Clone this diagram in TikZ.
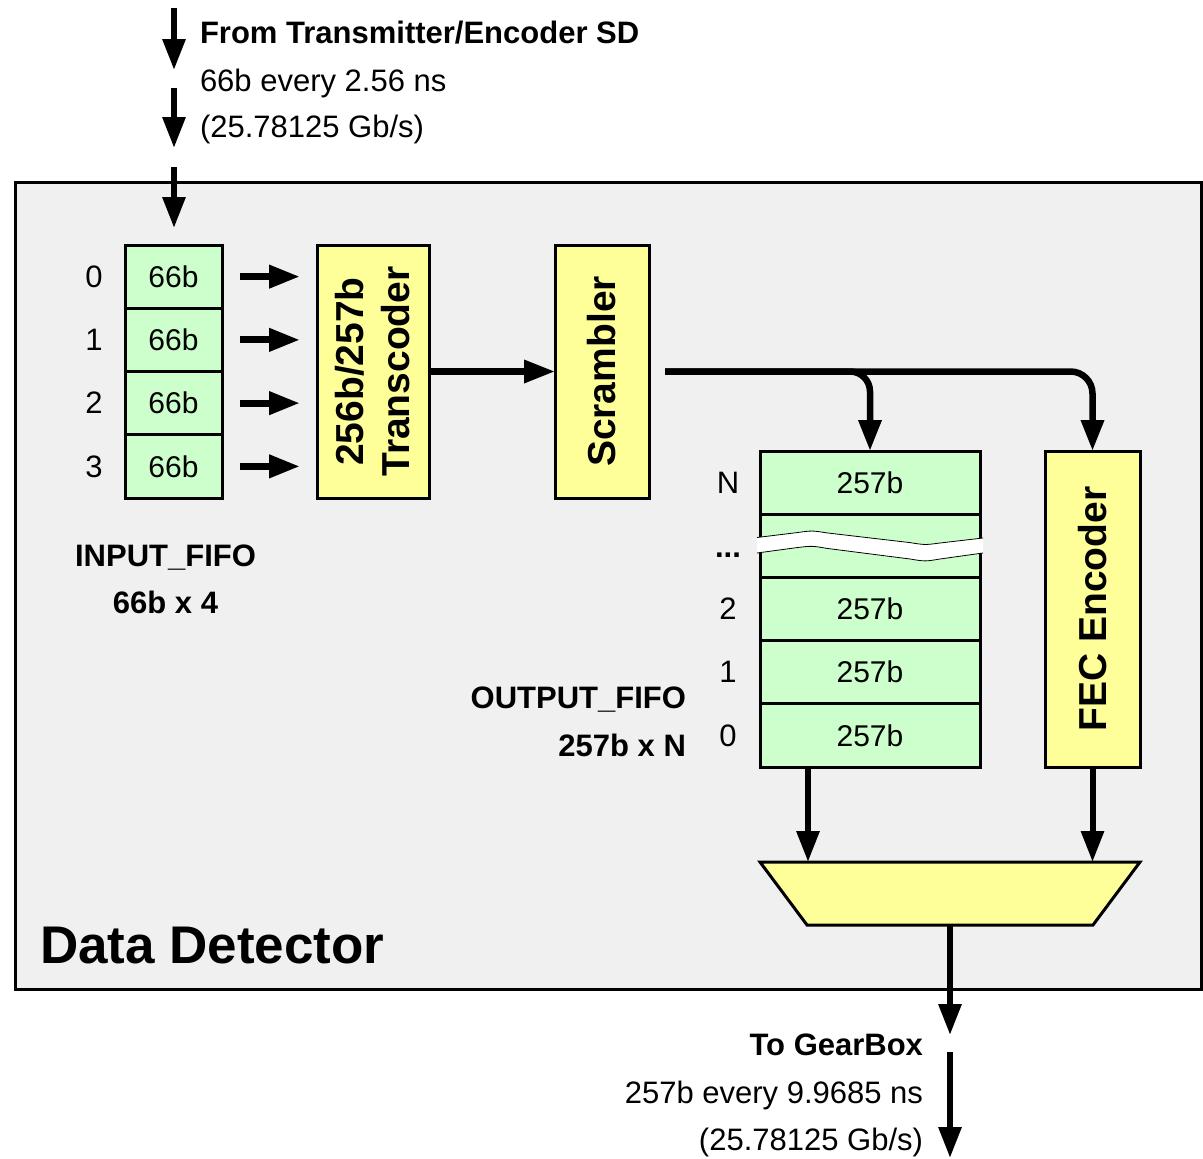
\documentclass[tikz,border=0pt]{standalone}
\usepackage{fontspec}
\setmainfont{Liberation Sans}
\usetikzlibrary{arrows.meta}
\definecolor{panelgray}{HTML}{F0F0F0}
\definecolor{cellgreen}{HTML}{CCFFCC}
\definecolor{blockyellow}{HTML}{FFFF99}

\begin{document}
\begin{tikzpicture}[x=1pt,y=-1pt,
  every node/.style={inner sep=0pt, outer sep=0pt},
  txt/.style={font=\fontsize{31}{37}\selectfont},
  btxt/.style={font=\fontsize{31}{37}\selectfont\bfseries},
  cell/.style={draw, line width=3pt, fill=cellgreen, font=\fontsize{30}{36}\selectfont},
  incell/.style={cell, minimum width=97pt, minimum height=63.25pt},
  outcell/.style={cell, minimum width=220pt, minimum height=63.2pt},
  block/.style={draw, line width=3pt, fill=blockyellow},
  blocklabel/.style={font=\fontsize{39}{46}\selectfont\bfseries, align=center, rotate=90},
  arr/.style={line width=6pt, -{Triangle[length=31pt,width=22pt]}},
]
\useasboundingbox (0,0) rectangle (1203,1159);

% main panel
\node[draw, line width=3pt, fill=panelgray, minimum width=1186pt, minimum height=807pt,
      anchor=north west] (panel) at (15,182) {};
\node[font=\fontsize{53}{60}\selectfont\bfseries, anchor=base west] (title) at (40,963) {Data Detector};

% incoming stream
\coordinate (a0) at (174,8);   \coordinate (a1) at (174,70);
\coordinate (b0) at (174,88);  \coordinate (b1) at (174,148);
\coordinate (c0) at (174,167); \coordinate (c1) at (174,228);
\draw[arr] (a0) -- (a1);
\draw[arr] (b0) -- (b1);
\draw[arr] (c0) -- (c1);
\node[btxt, anchor=base west] (src1) at (200,43) {From Transmitter/Encoder SD};
\node[txt, anchor=base west] (src2) at (200,91) {66b every 2.56 ns};
\node[txt, anchor=base west] (src3) at (200,137) {(25.78125 Gb/s)};

% input FIFO
\node[incell, anchor=north] (i0) at (173.5,245) {66b};
\node[incell, anchor=north] (i1) at (i0.south) {66b};
\node[incell, anchor=north] (i2) at (i1.south) {66b};
\node[incell, anchor=north] (i3) at (i2.south) {66b};
\foreach \k in {0,...,3}{
  \node[txt] (il\k) at ([xshift=-31pt]i\k.west) {\k};
}
\node[btxt, anchor=base] (inname) at (165.5,566) {INPUT\_FIFO};
\node[btxt, anchor=base] (insize) at (165.5,613) {66b x 4};

% transcoder and scrambler
\node[block, minimum width=112pt, minimum height=253pt] (tc) at (373,371.5) {};
\node[blocklabel] (tcl) at (tc.center) {256b/257b\\Transcoder};
\node[block, minimum width=94pt, minimum height=253pt] (sc) at (602,371.5) {};
\node[blocklabel] (scl) at (sc.center) {Scrambler};

\foreach \k in {0,...,3}{
  \draw[arr, line width=7pt, shorten <=18pt, shorten >=17pt] (i\k.east) -- (i\k.east -| tc.west);
}
\draw[arr, line width=6.5pt] (tc.east) -- (sc.west);

% output FIFO
\node[outcell, anchor=north] (o4) at (870,451) {257b};
\node[outcell, anchor=north] (o3) at (o4.south) {};
\node[outcell, anchor=north] (o2) at (o3.south) {257b};
\node[outcell, anchor=north] (o1) at (o2.south) {257b};
\node[outcell, anchor=north] (o0) at (o1.south) {257b};
\node[txt] (ol4) at ([xshift=-32pt]o4.west) {N};
\node[btxt, anchor=base] (ol3) at (728,557) {...};
\node[txt] (ol2) at ([xshift=-32pt]o2.west) {2};
\node[txt] (ol1) at ([xshift=-32pt]o1.west) {1};
\node[txt] (ol0) at ([xshift=-32pt]o0.west) {0};
\node[btxt, anchor=base east] (outname) at (686,708) {OUTPUT\_FIFO};
\node[btxt, anchor=base east] (outsize) at (686,756) {257b x N};

% break in the FIFO
\fill[white] (757,537.5) -- (797,532.6) .. controls (812,530.5) .. (827,532.9) -- (910,542.6)
  .. controls (925,545) .. (940,543) -- (983,538) -- (983,553) -- (940,559)
  .. controls (925,561.5) .. (910,559) -- (827,548.4) .. controls (812,545.8) .. (797,547.6)
  -- (757,553) -- cycle;
\draw[line width=0.8pt] (757,537.5) -- (797,532.6) .. controls (812,530.5) .. (827,532.9)
  -- (910,542.6) .. controls (925,545) .. (940,543) -- (983,538);
\draw[line width=0.8pt] (983,553) -- (940,559) .. controls (925,561.5) .. (910,559)
  -- (827,548.4) .. controls (812,545.8) .. (797,547.6) -- (757,553);

% FEC encoder
\node[block, minimum width=95pt, minimum height=316pt] (fec) at (1092.5,609) {};
\node[blocklabel] (fecl) at (fec.center) {FEC Encoder};

% scrambler fan-out
\draw[arr, line width=6.5pt, rounded corners=22pt, shorten <=16pt] (sc.east) -| (fec.north);
\draw[arr, line width=6.5pt, rounded corners=20pt, shorten <=16pt] (sc.east) -| (o4.north);

% multiplexer
\coordinate (muxtl) at (760,862);  \coordinate (muxtr) at (1140,862);
\coordinate (muxbr) at (1093,925); \coordinate (muxbl) at (807,925);
\coordinate (muxout) at (950,925);
\filldraw[line width=3pt, fill=blockyellow, line join=miter]
  (muxtl) -- (muxtr) -- (muxbr) -- (muxbl) -- cycle;
\draw[arr] ([xshift=-62pt]o0.south) -- ([xshift=-62pt]o0.south |- muxtl);
\draw[arr] (fec.south) -- (fec.south |- muxtl);

% outgoing stream
\coordinate (d1) at (950,1035);
\coordinate (e0) at (950,1052); \coordinate (e1) at (950,1158);
\draw[arr] (muxout) -- (d1);
\draw[arr] (e0) -- (e1);
\node[btxt, anchor=base east] (dst1) at (923,1055) {To GearBox};
\node[txt, anchor=base east] (dst2) at (923,1103) {257b every 9.9685 ns};
\node[txt, anchor=base east] (dst3) at (923,1150) {(25.78125 Gb/s)};
\end{tikzpicture}
\end{document}
